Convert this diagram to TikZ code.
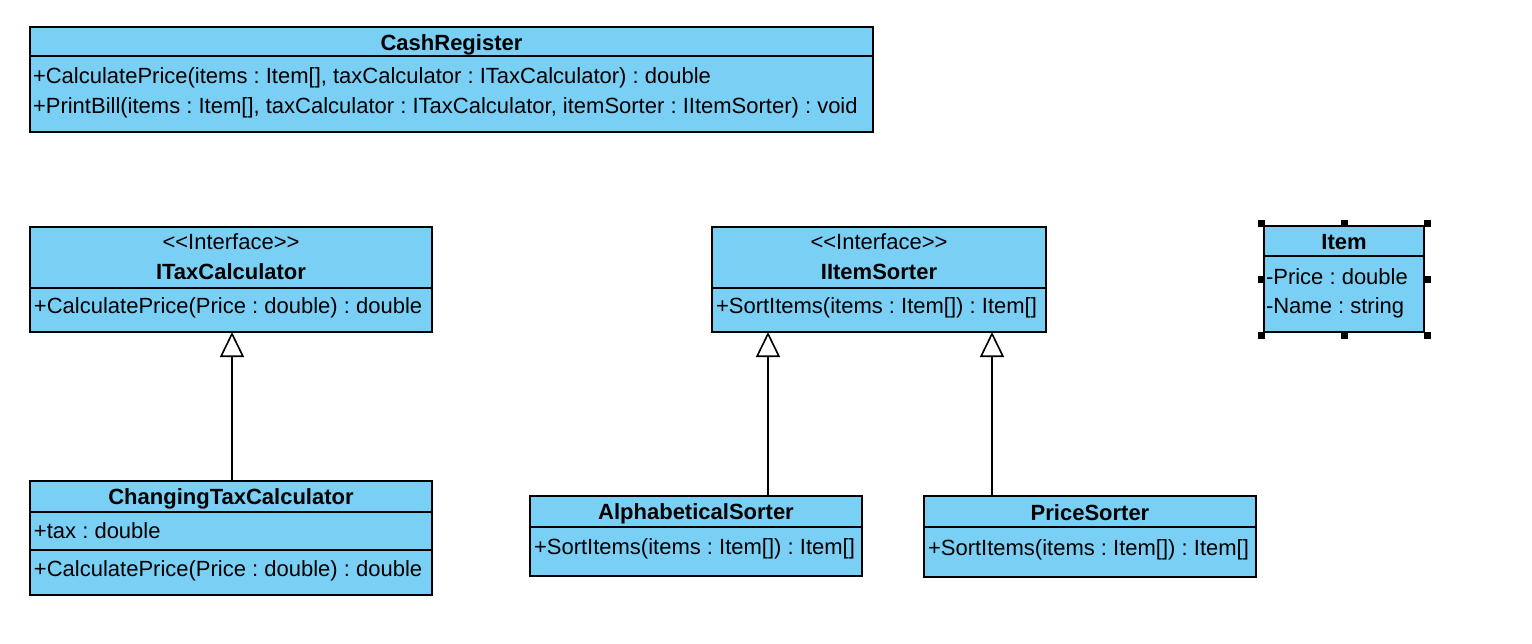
\documentclass[tikz,border=0pt]{standalone}
\usepackage{fontspec}
\setmainfont{Liberation Sans}
\usetikzlibrary{arrows.meta}
\definecolor{boxblue}{RGB}{122,207,245}
\frenchspacing
\tikzset{
  comp/.style={draw=black, fill=boxblue, line width=1.5pt, inner sep=0pt, outer sep=0pt, anchor=north west},
  txt/.style={inner sep=0pt, outer sep=0pt, font=\fontsize{22}{26}\selectfont\frenchspacing},
  ttl/.style={inner sep=0pt, outer sep=0pt, font=\fontsize{22}{26}\selectfont\bfseries, anchor=base},
  gen/.style={draw=black, line width=1.6pt, -{Triangle[open, length=25pt, width=24pt, line width=1.6pt]}},
  handle/.style={fill=black, draw=none, minimum size=7pt, inner sep=0pt, outer sep=0pt}
}
\begin{document}
\begin{tikzpicture}[x=1pt, y=-1pt]
\useasboundingbox (0,0) rectangle (1532,643);

% CashRegister
\node[comp, minimum width=843pt, minimum height=29pt] (crH) at (30,27) {};
\node[comp, minimum width=843pt, minimum height=76pt] (crB) at (30,56) {};
\node[ttl] (crT) at (451.5,50.5) {CashRegister};
\node[txt, anchor=base west] (crM1) at (33,83.5) {+CalculatePrice(items : Item[], taxCalculator : ITaxCalculator) : double};
\node[txt, anchor=base west] (crM2) at (33,113.5) {+PrintBill(items : Item[], taxCalculator : ITaxCalculator, itemSorter : IItemSorter) : void};

% ITaxCalculator
\node[comp, minimum width=402pt, minimum height=61pt] (itcH) at (30,227) {};
\node[comp, minimum width=402pt, minimum height=44pt] (itcB) at (30,288) {};
\node[txt, anchor=base] (itcS) at (231,249.5) {<\kern0pt<Interface>\kern0pt>};
\node[ttl] (itcT) at (231,279.5) {ITaxCalculator};
\node[txt, anchor=base west] (itcM) at (34,313.5) {+CalculatePrice(Price : double) : double};

% IItemSorter
\node[comp, minimum width=334pt, minimum height=61pt] (isH) at (712,227) {};
\node[comp, minimum width=334pt, minimum height=44pt] (isB) at (712,288) {};
\node[txt, anchor=base] (isS) at (879,249.5) {<\kern0pt<Interface>\kern0pt>};
\node[ttl] (isT) at (879,279.5) {IItemSorter};
\node[txt, anchor=base west] (isM) at (716,313.5) {+SortItems(items : Item[]) : Item[]};

% Item
\node[comp, minimum width=160pt, minimum height=30pt] (itH) at (1264,226) {};
\node[comp, minimum width=160pt, minimum height=76pt] (itB) at (1264,256) {};
\node[ttl] (itT) at (1344,249.5) {Item};
\node[txt, anchor=base west] (itA1) at (1266,284.5) {-Price : double};
\node[txt, anchor=base west] (itA2) at (1266,313.5) {-Name : string};
\node[handle] (h1) at (1261,223) {};
\node[handle] (h2) at (1344,223) {};
\node[handle] (h3) at (1427,223) {};
\node[handle] (h4) at (1261,279) {};
\node[handle] (h5) at (1427,279) {};
\node[handle] (h6) at (1261,335) {};
\node[handle] (h7) at (1344,335) {};
\node[handle] (h8) at (1427,335) {};

% ChangingTaxCalculator
\node[comp, minimum width=402pt, minimum height=31pt] (ctcH) at (30,481) {};
\node[comp, minimum width=402pt, minimum height=38pt] (ctcA) at (30,512) {};
\node[comp, minimum width=402pt, minimum height=45pt] (ctcB) at (30,550) {};
\node[ttl] (ctcT) at (231,504.5) {ChangingTaxCalculator};
\node[txt, anchor=base west] (ctcA1) at (34,538.5) {+tax : double};
\node[txt, anchor=base west] (ctcM) at (34,576.5) {+CalculatePrice(Price : double) : double};

% AlphabeticalSorter
\node[comp, minimum width=332pt, minimum height=31pt] (alH) at (530,496) {};
\node[comp, minimum width=332pt, minimum height=49pt] (alB) at (530,527) {};
\node[ttl] (alT) at (696,519.5) {AlphabeticalSorter};
\node[txt, anchor=base west] (alM) at (534,554.5) {+SortItems(items : Item[]) : Item[]};

% PriceSorter
\node[comp, minimum width=332pt, minimum height=31pt] (psH) at (924,496) {};
\node[comp, minimum width=332pt, minimum height=50pt] (psB) at (924,527) {};
\node[ttl] (psT) at (1090,520) {PriceSorter};
\node[txt, anchor=base west] (psM) at (928,555.5) {+SortItems(items : Item[]) : Item[]};

% generalizations
\coordinate (xc) at (232,0);
\coordinate (xa) at (768,0);
\coordinate (xp) at (992,0);
\draw[gen] (ctcH.north -| xc) -- (itcB.south -| xc);
\draw[gen] (alH.north -| xa) -- (isB.south -| xa);
\draw[gen] (psH.north -| xp) -- (isB.south -| xp);
\end{tikzpicture}
\end{document}
